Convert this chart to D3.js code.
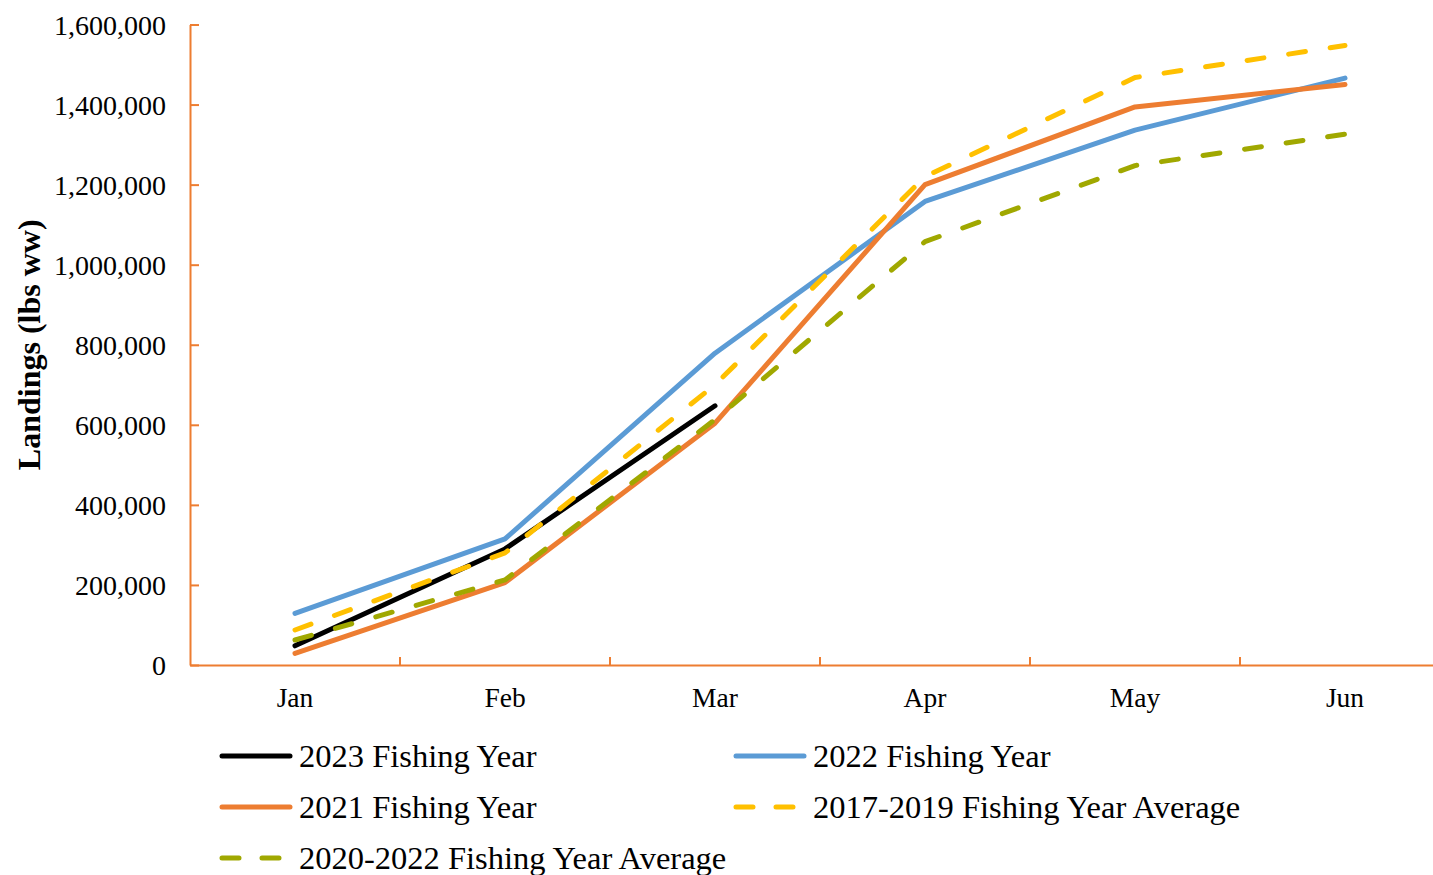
<!DOCTYPE html>
<html><head><meta charset="utf-8">
<script src="https://cdn.jsdelivr.net/npm/d3@7"></script>
<style>body{margin:0;background:#fff}svg{display:block}text{font-family:"Liberation Serif","Times New Roman",serif;fill:#000}</style>
</head><body><svg id="c" width="1433" height="875"></svg>
<script>
const months = ["Jan","Feb","Mar","Apr","May","Jun"];
const yTicks = [0,200000,400000,600000,800000,1000000,1200000,1400000,1600000];
const fy2023 = [48000,290000,647500];
const fy2022 = [129000,315000,779000,1158000,1336000,1466000];
const fy2021 = [29000,206000,604000,1200000,1394000,1450000];
const avg1719 = [87500,280000,700000,1220000,1467500,1547500];
const avg2022 = [62500,212500,613000,1057500,1247500,1326000];
const seriesNames = ["2023 Fishing Year","2022 Fishing Year","2021 Fishing Year","2017-2019 Fishing Year Average","2020-2022 Fishing Year Average"];
const seriesColors = ["#000000","#5B9BD5","#ED7D31","#FFC000","#A0A800"];
const seriesDashed = [false,false,false,true,true];
const seriesData = [fy2023,fy2022,fy2021,avg1719,avg2022];

const svg = d3.select("#c");
const mLeft = 190, mTop = 24.5, mBottom = 665, bandW = 210;
const x = d3.scaleBand().domain(months).range([mLeft, mLeft + bandW*months.length]);
const y = d3.scaleLinear().domain([0,1600000]).range([mBottom, mTop]);
const axisColor = "#ED7D31";

// y axis
const yAxis = svg.append("g").attr("transform",`translate(${mLeft},0)`)
  .call(d3.axisLeft(y).tickValues(yTicks).tickSizeInner(-9).tickSizeOuter(0).tickPadding(24)
    .tickFormat(d3.format(",")));
yAxis.select(".domain").attr("stroke",axisColor).attr("stroke-width",2);
yAxis.selectAll(".tick line").attr("stroke",axisColor).attr("stroke-width",2);
yAxis.selectAll(".tick text").attr("font-size",28).attr("font-family","Liberation Serif").attr("fill","#000").attr("dy","0.34em");

// x axis
const xAxis = svg.append("g").attr("transform",`translate(0,${mBottom})`)
  .call(d3.axisBottom(x).tickSize(0).tickPadding(22));
xAxis.select(".domain").attr("stroke",axisColor).attr("stroke-width",2);
xAxis.selectAll(".tick text").attr("font-size",27.5).attr("font-family","Liberation Serif").attr("fill","#000").attr("dy","0.71em");
const bounds = d3.range(1, months.length+1).map(i => mLeft + i*bandW);
svg.append("g").selectAll("line").data(bounds).join("line")
  .attr("x1",d=>d).attr("x2",d=>d).attr("y1",mBottom).attr("y2",mBottom-8)
  .attr("stroke",axisColor).attr("stroke-width",2);

// title
svg.append("text").attr("transform",`translate(40,${(mTop+mBottom)/2}) rotate(-90)`)
  .attr("text-anchor","middle").attr("font-size",32).attr("font-weight","bold").text("Landings (lbs ww)");

// lines
const line = d3.line().x((d,i)=>x(months[i])+x.bandwidth()/2).y(d=>y(d));
seriesData.forEach((s,k)=>{
  svg.append("path").datum(s).attr("d",line).attr("fill","none")
    .attr("stroke",seriesColors[k]).attr("stroke-width",5)
    .attr("stroke-linecap","round").attr("stroke-linejoin","round")
    .attr("stroke-dasharray",seriesDashed[k]?"17,25":null);
});

// legend
const legPos = [[222,756],[736,756],[222,807],[736,807],[222,858]];
seriesNames.forEach((n,k)=>{
  const [lx,ly] = legPos[k];
  svg.append("line").attr("x1",lx).attr("x2",lx+68).attr("y1",ly).attr("y2",ly)
    .attr("stroke",seriesColors[k]).attr("stroke-width",5).attr("stroke-linecap","round")
    .attr("stroke-dasharray",seriesDashed[k]?"17,23":null);
  svg.append("text").attr("x",lx+77).attr("y",ly+11).attr("font-size",32.5).text(n);
});
</script></body></html>
